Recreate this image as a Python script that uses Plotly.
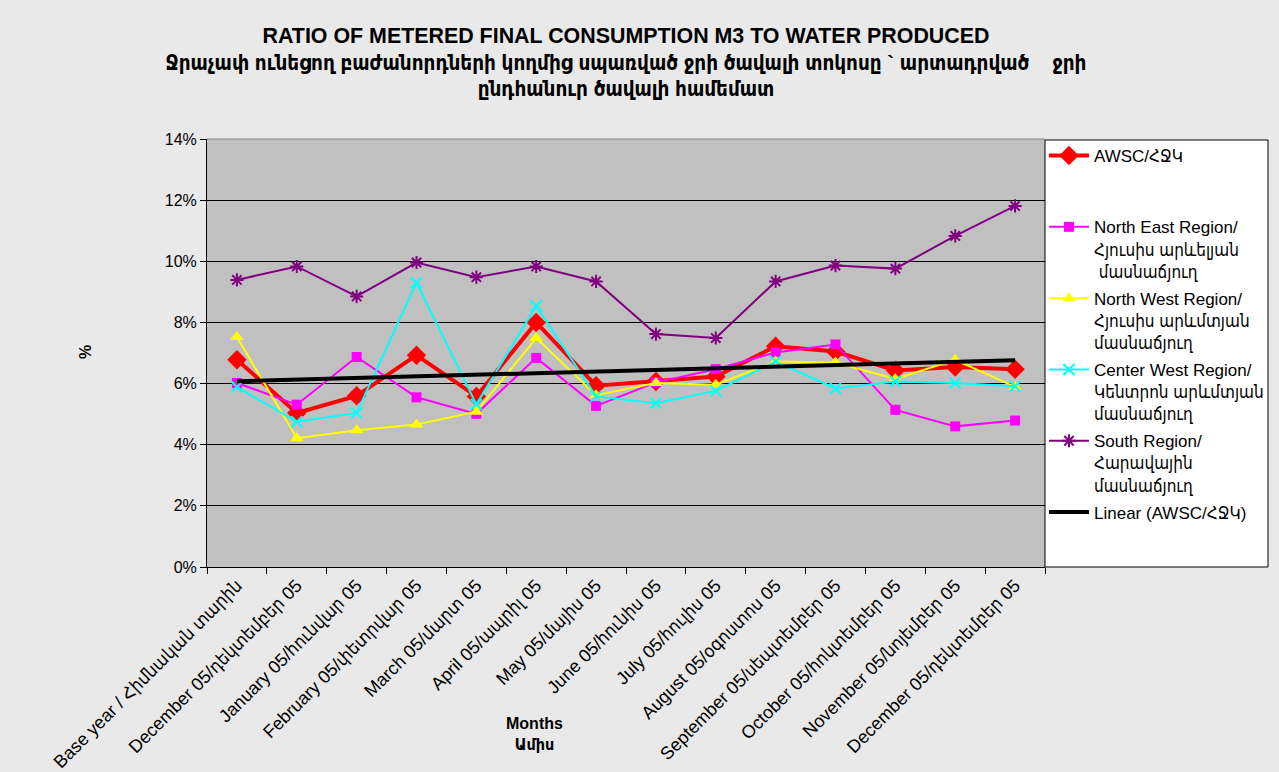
import numpy as np
import plotly.graph_objects as go

categories = [
    "Base year / Հիմնական տարին",
    "December 05/դեկտեմբեր 05",
    "January 05/հունվար 05",
    "February 05/փետրվար 05",
    "March 05/մարտ 05",
    "April 05/ապրիլ 05",
    "May 05/մայիս 05",
    "June 05/հունիս 05",
    "July 05/հուլիս 05",
    "August 05/օգոստոս 05",
    "September 05/սեպտեմբեր 05",
    "October 05/հոկտեմբեր 05",
    "November 05/նոյեմբեր 05",
    "December 05/դեկտեմբեր 05",
]

awsc = [6.78, 5.04, 5.60, 6.93, 5.58, 8.00, 5.93, 6.07, 6.23, 7.22, 7.05, 6.43, 6.54, 6.47]
north_east = [6.02, 5.31, 6.87, 5.55, 5.01, 6.84, 5.27, 6.04, 6.47, 7.02, 7.28, 5.14, 4.60, 4.79]
north_west = [7.52, 4.21, 4.47, 4.66, 5.08, 7.49, 5.62, 6.02, 5.96, 6.72, 6.69, 6.15, 6.78, 5.89]
center_west = [5.89, 4.75, 5.04, 9.30, 5.32, 8.54, 5.58, 5.36, 5.76, 6.72, 5.84, 6.07, 6.02, 5.91]
south = [9.39, 9.83, 8.85, 9.96, 9.48, 9.83, 9.34, 7.62, 7.49, 9.34, 9.86, 9.76, 10.83, 11.81]

y_ticks = [0, 2, 4, 6, 8, 10, 12, 14]

names = [
    "AWSC/ՀՋԿ<br> <br> ",
    "North East Region/<br>Հյուսիս արևելյան<br> մասնաճյուղ",
    "North West Region/<br>Հյուսիս արևմտյան<br>մասնաճյուղ",
    "Center West Region/<br>Կենտրոն արևմտյան<br>մասնաճյուղ",
    "South Region/<br>Հարավային<br>մասնաճյուղ",
    "Linear (AWSC/ՀՋԿ)",
]

x = np.arange(len(categories))
slope, intercept = np.polyfit(x, awsc, 1)
trend = slope * x + intercept

FONT = "Arial, 'Liberation Sans', 'DejaVu Sans Condensed', 'DejaVu Sans', sans-serif"

fig = go.Figure()
fig.add_trace(go.Scatter(
    x=x, y=awsc, name=names[0], mode="lines+markers", legendgroup="a",
    line=dict(color="#FF0000", width=4),
    marker=dict(symbol="diamond", size=15, color="#FF0000"),
))
fig.add_trace(go.Scatter(
    x=x, y=north_east, name=names[1], mode="lines+markers", legendgroup="b",
    line=dict(color="#FF00FF", width=2),
    marker=dict(symbol="square", size=10, color="#FF00FF"),
))
fig.add_trace(go.Scatter(
    x=x, y=north_west, name=names[2], mode="lines+markers", legendgroup="c",
    line=dict(color="#FFFF00", width=2),
    marker=dict(symbol="triangle-up", size=12, color="#FFFF00"),
))
fig.add_trace(go.Scatter(
    x=x, y=center_west, name=names[3], mode="lines+markers", legendgroup="d",
    line=dict(color="#00FFFF", width=2),
    marker=dict(symbol="x-thin", size=11, color="#00FFFF",
                line=dict(color="#00FFFF", width=2)),
))
fig.add_trace(go.Scatter(
    x=x, y=south, name=names[4], mode="lines+markers", legendgroup="e",
    line=dict(color="#800080", width=2),
    marker=dict(symbol="asterisk", size=11, color="#800080",
                line=dict(color="#800080", width=2)),
))
fig.add_trace(go.Scatter(
    x=x, y=trend, name=names[5], mode="lines", legendgroup="f",
    line=dict(color="#000000", width=4),
))

W, H = 1279, 772
left, right, top, bottom = 207, 1045, 139, 567
plot_w = right - left
plot_h = bottom - top

def px_x(p):
    return (p - left) / plot_w

def px_y(p):
    return (bottom - p) / plot_h

fig.update_layout(
    width=W, height=H,
    margin=dict(l=left, r=W - right, t=top, b=H - bottom, autoexpand=False),
    paper_bgcolor="#E9E9E9",
    plot_bgcolor="#C0C0C0",
    font=dict(family=FONT, size=15, color="#000000"),
    title=dict(
        text="<b><span style='font-size:21.4px'>RATIO OF METERED FINAL CONSUMPTION M3 TO WATER PRODUCED</span></b><br>"
             "<b>Ջրաչափ ունեցող բաժանորդների կողմից սպառված ջրի ծավալի տոկոսը ` արտադրված    ջրի</b><br>"
             "<b>ընդհանուր ծավալի համեմատ</b>",
        x=0.5, xanchor="center", xref="paper",
        y=1 - 43 / H, yanchor="top", yref="container",
        font=dict(family=FONT, size=20.5, color="#000000"),
    ),
    showlegend=True,
    legend=dict(
        x=px_x(1044), xanchor="left", y=px_y(138), yanchor="top",
        bgcolor="rgba(0,0,0,0)", borderwidth=0, maxheight=700,
        font=dict(family=FONT, size=17, color="#000000"),
        valign="top", tracegroupgap=2, itemwidth=40,
    ),
    shapes=[
        dict(type="rect", xref="paper", yref="paper",
             x0=1.0, x1=px_x(1268), y0=0.0, y1=px_y(140),
             fillcolor="#FFFFFF", line=dict(color="#000000", width=1), layer="below"),
        dict(type="line", xref="paper", yref="paper", x0=0, x1=1, y0=1, y1=1,
             line=dict(color="#808080", width=1)),
    ],
    annotations=[
        dict(text="<b>Months<br>Ամիս</b>", xref="paper", yref="paper",
             x=px_x(534), y=px_y(734), xanchor="center", yanchor="middle",
             showarrow=False, font=dict(family=FONT, size=16)),
        dict(text="<b>%</b>", xref="paper", yref="paper",
             x=px_x(85), y=px_y(352), xanchor="center", yanchor="middle",
             showarrow=False, textangle=-90, font=dict(family=FONT, size=16)),
    ],
    xaxis=dict(
        range=[-0.5, len(categories) - 0.5], automargin=False,
        tickmode="array", tickvals=x, ticktext=categories,
        tickangle=-45, ticks="", showgrid=False, zeroline=False,
        showline=True, linecolor="#000000", linewidth=1,
        tickfont=dict(family=FONT, size=18),
        minor=dict(ticks="outside", tick0=-0.5, dtick=1, ticklen=6,
                   tickcolor="#000000", showgrid=False),
    ),
    yaxis=dict(
        range=[0, 14], automargin=False, tickmode="array", tickvals=y_ticks,
        ticktext=[f"{v}%" for v in y_ticks],
        ticks="outside", ticklen=6, tickcolor="#000000",
        showgrid=True, gridcolor="#000000", gridwidth=1, zeroline=False,
        showline=True, linecolor="#000000", linewidth=1,
        tickfont=dict(family=FONT, size=16),
    ),
)

fig.write_html(
    "out.html",
    config={"displayModeBar": False},
    post_script="document.body.style.margin='0';document.body.style.overflow='hidden';",
)
